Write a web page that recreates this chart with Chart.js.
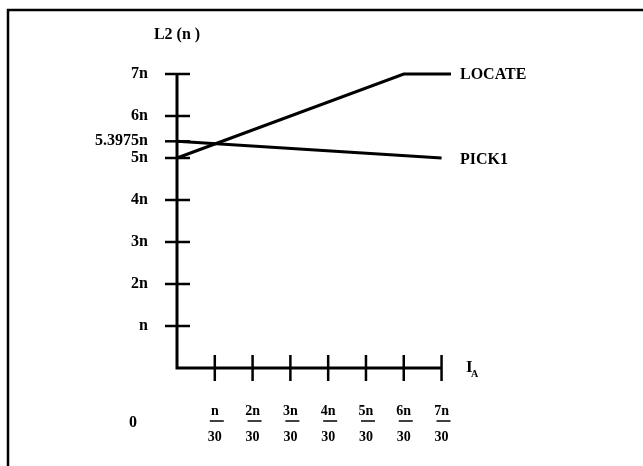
<!DOCTYPE html>
<html>
<head>
<meta charset="utf-8">
<script src="https://cdn.jsdelivr.net/npm/chart.js@4"></script>
<style>
html, body { margin: 0; padding: 0; background: #fff; }
#wrap { width: 643px; height: 466px; }
</style>
</head>
<body>
<div id="wrap"><canvas id="grafico"></canvas></div>
<script>
// dados (unidades: x em n/30, y em n)
const xLocate = [0, 6, 7.25];
const yLocate = [5, 7, 7];
const xPick = [0, 7];
const yPick = [5.3975, 5];
const seriesNames = ['LOCATE', 'PICK1'];

const xTicks = [1, 2, 3, 4, 5, 6, 7];
const xNumer = ['n', '2n', '3n', '4n', '5n', '6n', '7n'];
const xDenom = '30';
const yTicks = [1, 2, 3, 4, 5, 5.3975, 6, 7];
const yLabels = ['n', '2n', '3n', '4n', '5n', '5.3975n', '6n', '7n'];

const serif = "'Liberation Serif', 'DejaVu Serif', serif";

const eixos = {
	id: 'eixos',
	afterDraw(chart) {
		const ctx = chart.ctx;
		const xs = chart.scales.x;
		const ys = chart.scales.y;
		const x0 = xs.getPixelForValue(0);
		const y0 = ys.getPixelForValue(0);
		ctx.save();
		ctx.strokeStyle = '#000';
		ctx.fillStyle = '#000';

		// moldura (só topo e esquerda aparecem)
		ctx.lineWidth = 2.5;
		ctx.beginPath();
		ctx.moveTo(8, 466);
		ctx.lineTo(8, 10);
		ctx.lineTo(643, 10);
		ctx.stroke();

		// eixos
		ctx.lineWidth = 3;
		ctx.beginPath();
		ctx.moveTo(x0, ys.getPixelForValue(7));
		ctx.lineTo(x0, y0);
		ctx.lineTo(xs.getPixelForValue(7), y0);
		ctx.stroke();

		// marcas
		ctx.lineWidth = 2.5;
		yTicks.forEach(v => {
			const p = ys.getPixelForValue(v);
			ctx.beginPath();
			ctx.moveTo(x0 - 12, p);
			ctx.lineTo(x0 + 13, p);
			ctx.stroke();
		});
		xTicks.forEach(v => {
			const p = xs.getPixelForValue(v);
			ctx.beginPath();
			ctx.moveTo(p, y0 - 13);
			ctx.lineTo(p, y0 + 13);
			ctx.stroke();
		});

		// barras das frações
		ctx.lineWidth = 1.5;
		xTicks.forEach(v => {
			const p = xs.getPixelForValue(v) + 2;
			ctx.beginPath();
			ctx.moveTo(p - 7, y0 + 53);
			ctx.lineTo(p + 7, y0 + 53);
			ctx.stroke();
		});

		ctx.font = 'bold 16px ' + serif;
		ctx.textBaseline = 'middle';
		ctx.textAlign = 'center';
		ctx.fillText('0', x0 - 44, y0 + 55);
		ctx.fillText('L2 (n )', x0, ys.getPixelForValue(7) - 39);

		// I_A
		ctx.textAlign = 'left';
		ctx.font = 'bold 17px ' + serif;
		ctx.fillText('I', xs.right + 15, y0);
		ctx.font = 'bold 10px ' + serif;
		ctx.fillText('A', xs.right + 20, y0 + 6);

		// nomes das curvas
		ctx.font = 'bold 16px ' + serif;
		ctx.fillText(seriesNames[0], xs.right + 9, ys.getPixelForValue(yLocate[yLocate.length - 1]) + 1);
		ctx.fillText(seriesNames[1], xs.right + 9, ys.getPixelForValue(yPick[yPick.length - 1]) + 2);
		ctx.restore();
	}
};

const grafico = new Chart(document.getElementById('grafico'), {
	type: 'line',
	data: {
		datasets: [
			{
				label: seriesNames[0],
				data: xLocate.map((x, i) => ({ x: x, y: yLocate[i] })),
				borderColor: '#000',
				borderWidth: 3,
				pointRadius: 0,
				tension: 0,
				clip: false
			},
			{
				label: seriesNames[1],
				data: xPick.map((x, i) => ({ x: x, y: yPick[i] })),
				borderColor: '#000',
				borderWidth: 3,
				pointRadius: 0,
				tension: 0,
				clip: false
			}
		]
	},
	options: {
		responsive: true,
		maintainAspectRatio: false,
		animation: false,
		layout: { padding: { left: 77, right: 192, top: 74, bottom: 0 } },
		plugins: {
			legend: { display: false },
			tooltip: { enabled: false }
		},
		scales: {
			x: {
				type: 'linear',
				min: 0,
				max: 7.25,
				afterBuildTicks: s => { s.ticks = xTicks.map(v => ({ value: v })); },
				afterFit: s => { s.height = 98; },
				grid: { display: false, drawTicks: false },
				border: { display: false },
				ticks: {
					autoSkip: false,
					maxRotation: 0,
					padding: 31,
					color: '#000',
					font: { family: serif, size: 14, weight: 'bold', lineHeight: 1.82 },
					callback: (v, i) => [xNumer[i], xDenom]
				}
			},
			y: {
				type: 'linear',
				min: 0,
				max: 7,
				afterBuildTicks: s => { s.ticks = yTicks.map(v => ({ value: v })); },
				afterFit: s => { s.width = 100; },
				grid: { display: false, drawTicks: false },
				border: { display: false },
				ticks: {
					autoSkip: false,
					padding: 29,
					color: '#000',
					font: { family: serif, size: 16, weight: 'bold' },
					callback: (v, i) => yLabels[i]
				}
			}
		}
	},
	plugins: [eixos]
});
</script>
</body>
</html>
